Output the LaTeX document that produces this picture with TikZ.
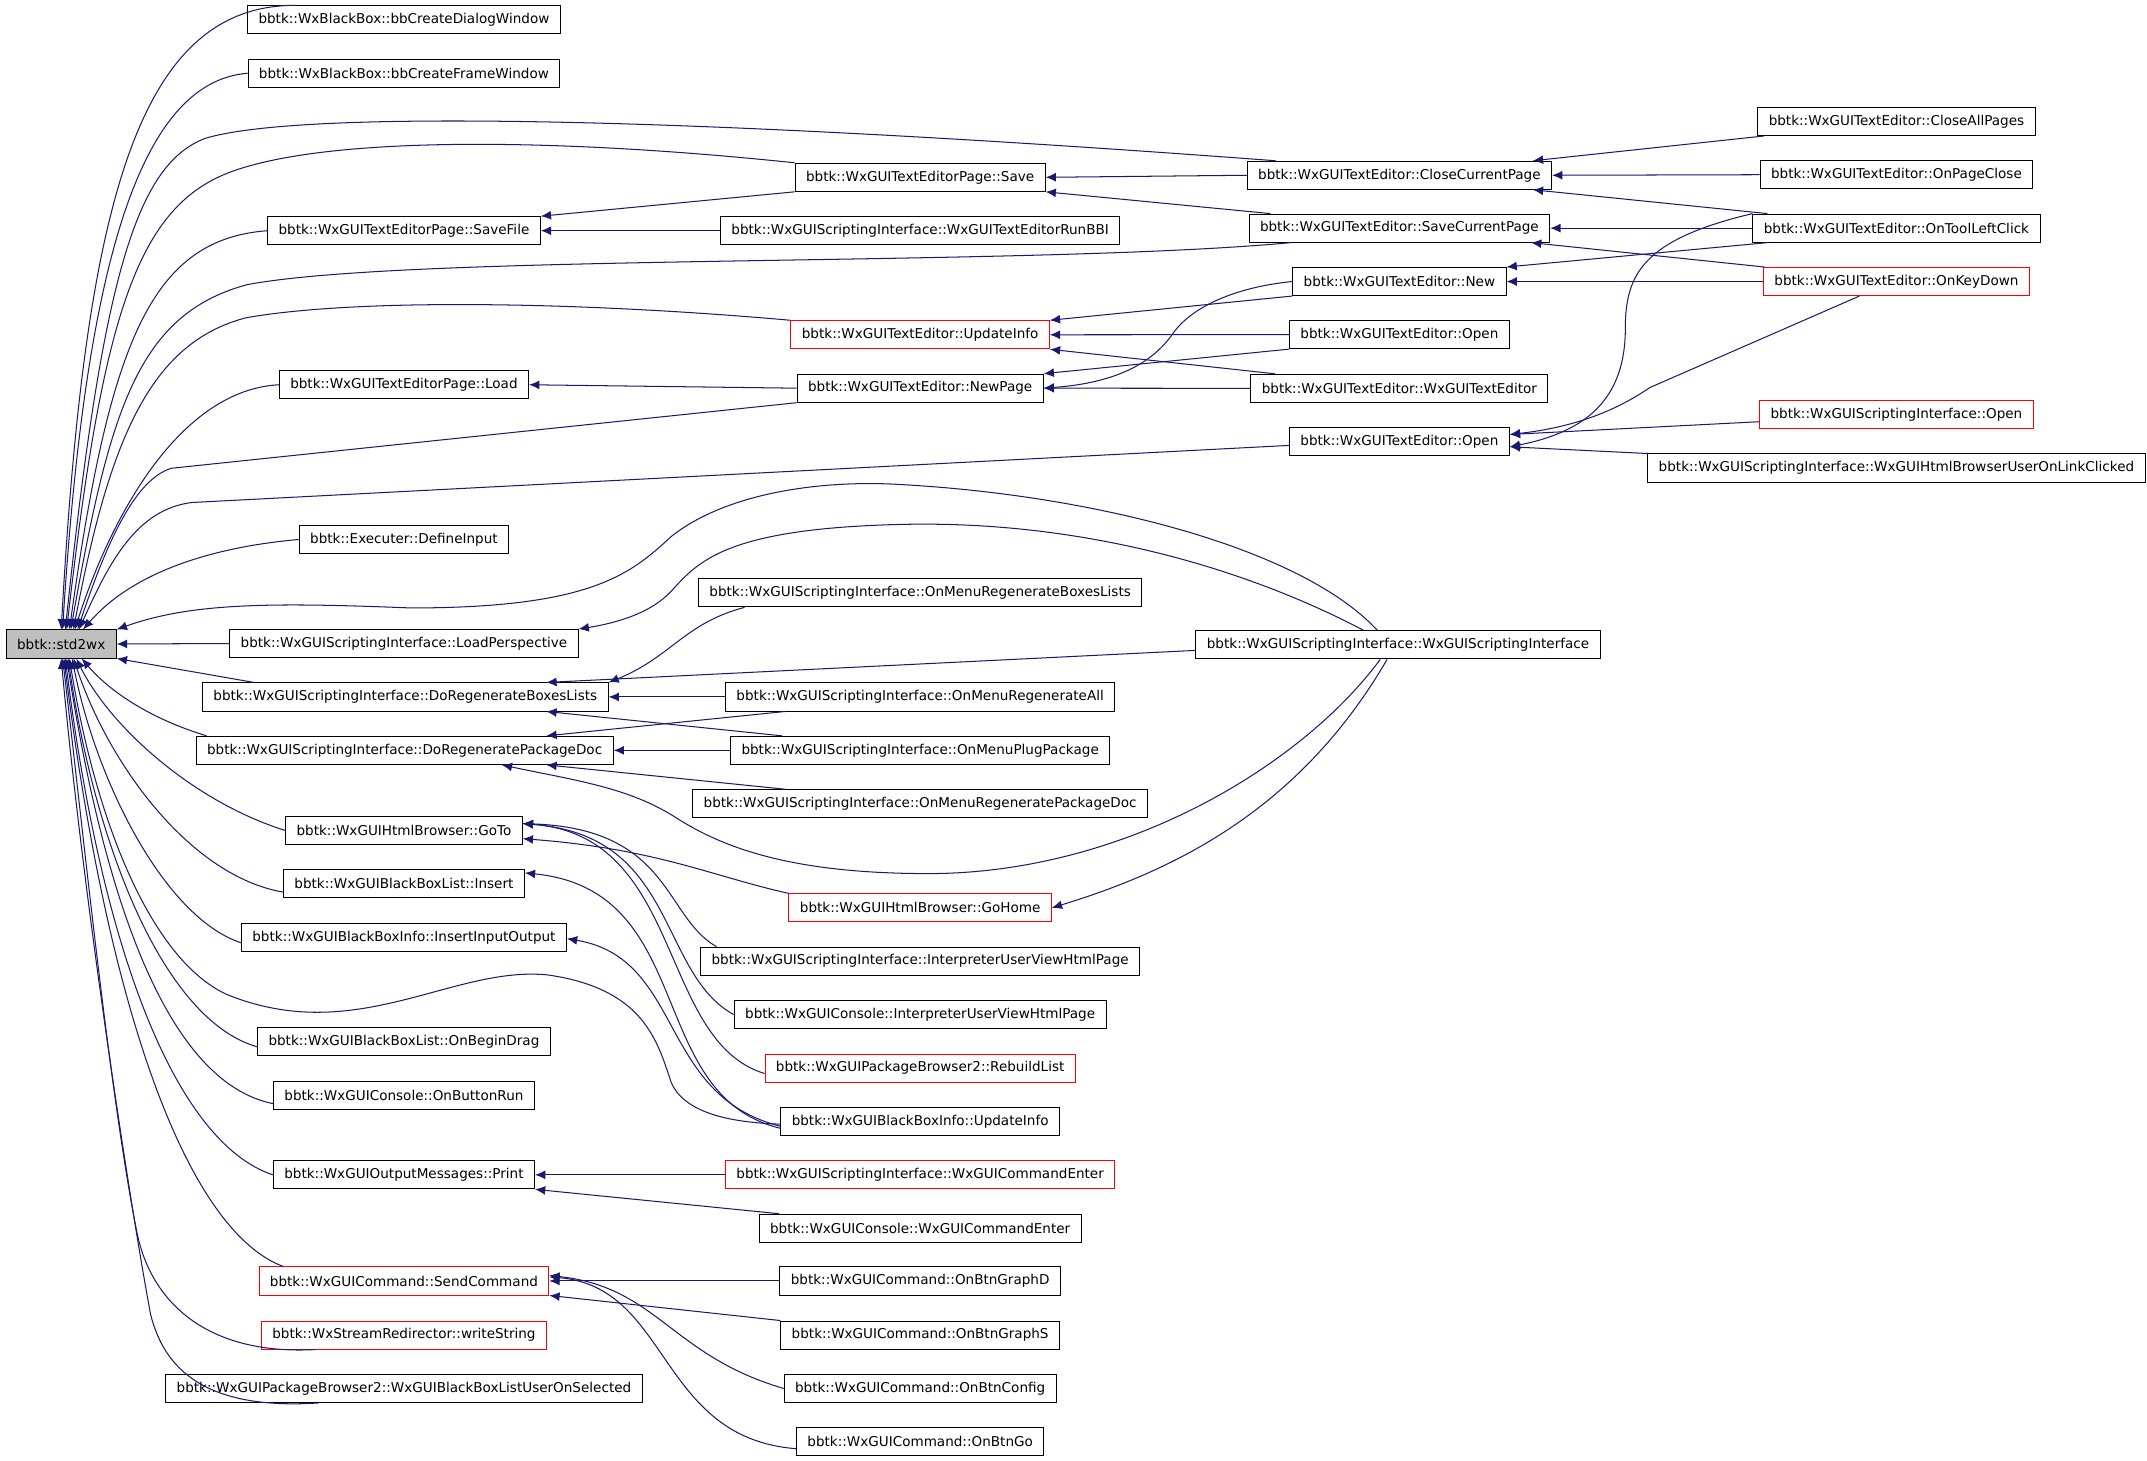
\documentclass[tikz,border=0pt]{standalone}
\usepackage{fontspec}
\setmainfont{DejaVu Sans}
\usetikzlibrary{arrows.meta}

\definecolor{edgeblue}{RGB}{25,25,112}
\definecolor{boxgray}{RGB}{191,191,191}

\tikzstyle{fn} = [draw, line width=0.7pt, font=\fontsize{9.9}{12}\selectfont, inner xsep=8pt, inner ysep=0pt, minimum height=20.5pt]
\tikzstyle{fnred} = [fn, draw=red]
\tikzstyle{line} = [draw, edgeblue, line width=0.75pt, -{Latex[length=7.5pt,width=6.5pt]}]

\begin{document}
\begin{tikzpicture}[x=1pt, y=-1pt]
	\useasboundingbox (0,0) rectangle (1568,1067);

	\node[fn, fill=boxgray] (std) at (44.7,470.3) {bbtk::std2wx};

	% first column of callers
	\node[fn] (dlg) at (295,14.5) {bbtk::WxBlackBox::bbCreateDialogWindow};
	\node[fn] (frm) at (295,53.5) {bbtk::WxBlackBox::bbCreateFrameWindow};
	\node[fn] (savefile) at (295,168.5) {bbtk::WxGUITextEditorPage::SaveFile};
	\node[fn] (load) at (295,281) {bbtk::WxGUITextEditorPage::Load};
	\node[fn] (definput) at (295,394) {bbtk::Executer::DefineInput};
	\node[fn] (loadpersp) at (295,470) {bbtk::WxGUIScriptingInterface::LoadPerspective};
	\node[fn] (regenbox) at (296,509) {bbtk::WxGUIScriptingInterface::DoRegenerateBoxesLists};
	\node[fn] (regendoc) at (295.5,548) {bbtk::WxGUIScriptingInterface::DoRegeneratePackageDoc};
	\node[fn] (htmlgoto) at (295,606.5) {bbtk::WxGUIHtmlBrowser::GoTo};
	\node[fn] (insert) at (295,645.5) {bbtk::WxGUIBlackBoxList::Insert};
	\node[fn] (insertio) at (295,684.5) {bbtk::WxGUIBlackBoxInfo::InsertInputOutput};
	\node[fn] (begindrag) at (295,760.5) {bbtk::WxGUIBlackBoxList::OnBeginDrag};
	\node[fn] (buttonrun) at (295,800) {bbtk::WxGUIConsole::OnButtonRun};
	\node[fn] (print) at (295,858) {bbtk::WxGUIOutputMessages::Print};
	\node[fnred] (sendcmd) at (295,935.5) {bbtk::WxGUICommand::SendCommand};
	\node[fnred] (writestr) at (295,975) {bbtk::WxStreamRedirector::writeString};
	\node[fn] (useronsel) at (295,1014) {bbtk::WxGUIPackageBrowser2::WxGUIBlackBoxListUserOnSelected};

	% second column
	\node[fn] (save) at (672,129.5) {bbtk::WxGUITextEditorPage::Save};
	\node[fn] (runbbi) at (672,168.5) {bbtk::WxGUIScriptingInterface::WxGUITextEditorRunBBI};
	\node[fnred] (updinfo) at (672,244.5) {bbtk::WxGUITextEditor::UpdateInfo};
	\node[fn] (newpage) at (672,283.5) {bbtk::WxGUITextEditor::NewPage};
	\node[fn] (menuboxes) at (672,433) {bbtk::WxGUIScriptingInterface::OnMenuRegenerateBoxesLists};
	\node[fn] (menuall) at (672,509) {bbtk::WxGUIScriptingInterface::OnMenuRegenerateAll};
	\node[fn] (menuplug) at (672,548) {bbtk::WxGUIScriptingInterface::OnMenuPlugPackage};
	\node[fn] (menudoc) at (672,587) {bbtk::WxGUIScriptingInterface::OnMenuRegeneratePackageDoc};
	\node[fnred] (gohome) at (672,663) {bbtk::WxGUIHtmlBrowser::GoHome};
	\node[fn] (siview) at (672,702) {bbtk::WxGUIScriptingInterface::InterpreterUserViewHtmlPage};
	\node[fn] (conview) at (672,741) {bbtk::WxGUIConsole::InterpreterUserViewHtmlPage};
	\node[fnred] (rebuild) at (672,780) {bbtk::WxGUIPackageBrowser2::RebuildList};
	\node[fn] (bbiupd) at (672,819) {bbtk::WxGUIBlackBoxInfo::UpdateInfo};
	\node[fnred] (sicmd) at (672,858) {bbtk::WxGUIScriptingInterface::WxGUICommandEnter};
	\node[fn] (concmd) at (672,897) {bbtk::WxGUIConsole::WxGUICommandEnter};
	\node[fn] (graphd) at (672,935.5) {bbtk::WxGUICommand::OnBtnGraphD};
	\node[fn] (graphs) at (672,975) {bbtk::WxGUICommand::OnBtnGraphS};
	\node[fn] (config) at (672,1014) {bbtk::WxGUICommand::OnBtnConfig};
	\node[fn] (btngo) at (672,1053) {bbtk::WxGUICommand::OnBtnGo};

	% third column
	\node[fn] (closecur) at (1022,128) {bbtk::WxGUITextEditor::CloseCurrentPage};
	\node[fn] (savecur) at (1022,166.6) {bbtk::WxGUITextEditor::SaveCurrentPage};
	\node[fn] (tenew) at (1022,205.6) {bbtk::WxGUITextEditor::New};
	\node[fn] (teopen) at (1022,244.4) {bbtk::WxGUITextEditor::Open};
	\node[fn] (tector) at (1022,283.6) {bbtk::WxGUITextEditor::WxGUITextEditor};
	\node[fn] (teopen2) at (1022,322.3) {bbtk::WxGUITextEditor::Open};
	\node[fn] (sictor) at (1021,471) {bbtk::WxGUIScriptingInterface::WxGUIScriptingInterface};

	% fourth column
	\node[fn] (closeall) at (1385,88.7) {bbtk::WxGUITextEditor::CloseAllPages};
	\node[fn] (pageclose) at (1385,127.6) {bbtk::WxGUITextEditor::OnPageClose};
	\node[fn] (toolleft) at (1385,166.6) {bbtk::WxGUITextEditor::OnToolLeftClick};
	\node[fnred] (keydown) at (1385,205.6) {bbtk::WxGUITextEditor::OnKeyDown};
	\node[fnred] (siopen) at (1385,303) {bbtk::WxGUIScriptingInterface::Open};
	\node[fn] (linkclick) at (1385,341.8) {bbtk::WxGUIScriptingInterface::WxGUIHtmlBrowserUserOnLinkClicked};

	% callers of std2wx, from above
	\draw[line] ([xshift=35pt]dlg.north west) .. controls (100,4) and (62,150) .. (std.north);
	\draw[line] (frm.west) .. controls (100,60) and (62,200) .. ([xshift=1pt]std.north);
	\draw[line] ([xshift=21pt]closecur.north west) .. controls (500,85) and (220,80) .. (150,101) .. controls (100,120) and (75,200) .. ([xshift=3pt]std.north);
	\draw[line] (save.north west) .. controls (400,100) and (240,100) .. (170,125) .. controls (100,150) and (75,230) .. ([xshift=4pt]std.north);
	\draw[line] (savefile.west) .. controls (110,175) and (80,250) .. ([xshift=6pt]std.north);
	\draw[line] ([xshift=31pt]savecur.south west) .. controls (750,195) and (300,185) .. (180,208) .. controls (100,230) and (80,300) .. ([xshift=7pt]std.north);
	\draw[line] (updinfo.north west) .. controls (420,220) and (260,218) .. (180,232) .. controls (110,250) and (80,320) .. ([xshift=9pt]std.north);
	\draw[line] (load.west) .. controls (130,285) and (80,380) .. ([xshift=10pt]std.north);
	\draw[line] (newpage.south west) -- (125,342) .. controls (100,350) and (80,390) .. ([xshift=12pt]std.north);
	\draw[line] ([yshift=-3pt]teopen2.west) -- (140,367) .. controls (100,372) and (80,410) .. ([xshift=13pt]std.north);
	\draw[line] (definput.west) .. controls (150,400) and (95,420) .. ([xshift=16pt]std.north);
	\draw[line] ([xshift=-15pt]sictor.north) .. controls (950,400) and (800,362) .. (660,354) .. controls (600,350) and (530,360) .. (490,392) .. controls (460,420) and (430,444) .. (300,444) .. controls (200,440) and (140,440) .. (std.north east);
	\draw[line] (loadpersp.west) -- (std.east);

	% callers of std2wx, from below
	\draw[line] ([xshift=38pt]regenbox.north west) -- (std.south east);
	\draw[line] ([xshift=8pt]regendoc.north west) .. controls (110,525) and (80,505) .. ([xshift=15pt]std.south);
	\draw[line] (htmlgoto.west) .. controls (140,585) and (80,530) .. ([xshift=11pt]std.south);
	\draw[line] ([yshift=-6pt]insert.west) .. controls (140,640) and (80,560) .. ([xshift=9pt]std.south);
	\draw[line] ([yshift=-4pt]insertio.west) .. controls (120,670) and (70,570) .. ([xshift=8pt]std.south);
	\draw[line] ([yshift=-2pt]bbiupd.west) .. controls (540,820) and (500,815) .. (490,790) .. controls (480,760) and (470,722) .. (400,712) .. controls (330,705) and (260,765) .. (165,726) .. controls (110,700) and (70,600) .. ([xshift=6pt]std.south);
	\draw[line] ([yshift=-4pt]begindrag.west) .. controls (120,745) and (70,620) .. ([xshift=5pt]std.south);
	\draw[line] ([yshift=-6pt]buttonrun.west) .. controls (120,790) and (75,650) .. ([xshift=4pt]std.south);
	\draw[line] (print.west) .. controls (130,835) and (75,700) .. ([xshift=3pt]std.south);
	\draw[line] ([xshift=18pt]sendcmd.north west) .. controls (140,900) and (80,750) .. ([xshift=2pt]std.south);
	\draw[line] ([xshift=40pt]writestr.south west) .. controls (150,990) and (110,950) .. (100,900) .. controls (80,800) and (60,600) .. ([xshift=1pt]std.south);
	\draw[line] ([xshift=112pt]useronsel.south west) .. controls (150,1030) and (120,1000) .. (110,960) .. controls (95,880) and (60,650) .. (std.south);

	% text editor
	\draw[line] (save.south west) -- (savefile.north east);
	\draw[line] (runbbi.west) -- (savefile.east);
	\draw[line] (closecur.west) -- (save.east);
	\draw[line] ([xshift=16pt]savecur.north west) -- (save.south east);
	\draw[line] ([xshift=5pt]closeall.south west) -- ([xshift=-14pt]closecur.north east);
	\draw[line] (pageclose.west) -- (closecur.east);
	\draw[line] ([xshift=11pt]toolleft.north west) -- ([xshift=-14pt]closecur.south east);
	\draw[line] (toolleft.west) -- (savecur.east);
	\draw[line] ([xshift=1pt]keydown.north west) -- ([xshift=-14pt]savecur.south east);
	\draw[line] ([xshift=11pt]toolleft.south west) -- (tenew.north east);
	\draw[line] (keydown.west) -- (tenew.east);
	\draw[line] (tenew.south west) -- (updinfo.north east);
	\draw[line] (teopen.west) -- (updinfo.east);
	\draw[line] ([xshift=18pt]tector.north west) -- (updinfo.south east);
	\draw[line] (teopen.south west) -- (newpage.north east);
	\draw[line] (tenew.west) .. controls (900,210) and (870,225) .. (857,243) .. controls (840,268) and (810,280) .. (newpage.east);
	\draw[line] (tector.west) -- (newpage.east);
	\draw[line] (newpage.west) -- (load.east);
	\draw[line] (toolleft.north west) .. controls (1200,175) and (1187,200) .. (1187,240) .. controls (1187,290) and (1160,315) .. ([yshift=-4pt]teopen2.east);
	\draw[line] ([xshift=-27pt]keydown.south) -- (1205,283) .. controls (1180,300) and (1150,312) .. ([yshift=5pt]teopen2.east);
	\draw[line] ([yshift=-5pt]siopen.west) -- ([yshift=5pt]teopen2.east);
	\draw[line] (linkclick.north west) -- ([yshift=-4pt]teopen2.east);

	% scripting interface
	\draw[line] ([xshift=-25pt]sictor.north) .. controls (900,410) and (780,380) .. (658,383) .. controls (530,386) and (510,410) .. (490,432) .. controls (475,448) and (450,455) .. (loadpersp.north east);
	\draw[line] ([yshift=-4pt]sictor.west) -- ([xshift=103pt]regenbox.north);
	\draw[line] ([xshift=34pt]menuboxes.south west) .. controls (500,455) and (490,480) .. (regenbox.north east);
	\draw[line] (menuall.west) -- (regenbox.east);
	\draw[line] ([xshift=38pt]menuplug.north west) -- ([xshift=103pt]regenbox.south);
	\draw[line] ([xshift=44pt]menuall.south west) -- ([xshift=103.5pt]regendoc.north);
	\draw[line] (menuplug.west) -- (regendoc.east);
	\draw[line] ([xshift=68pt]menudoc.north west) -- ([xshift=103.5pt]regendoc.south);
	\draw[line] ([xshift=-13pt]sictor.south) .. controls (950,560) and (820,638) .. (678,638) .. controls (580,638) and (530,620) .. (495,598) .. controls (460,575) and (420,570) .. ([xshift=71pt]regendoc.south);
	\draw[line] ([xshift=-8pt]sictor.south) .. controls (950,590) and (860,635) .. (gohome.east);

	% html browser, black box lists
	\draw[line] (gohome.north west) .. controls (520,640) and (480,620) .. ([yshift=-6pt]htmlgoto.east);
	\draw[line] ([xshift=12pt]siview.north west) .. controls (485,670) and (490,605) .. ([yshift=5pt]htmlgoto.east);
	\draw[line] (conview.west) .. controls (480,710) and (495,610) .. ([yshift=5pt]htmlgoto.east);
	\draw[line] ([yshift=-4pt]rebuild.west) .. controls (480,760) and (500,610) .. ([yshift=5pt]htmlgoto.east);
	\draw[line] ([yshift=-5pt]bbiupd.west) .. controls (470,800) and (510,650) .. ([yshift=8pt]insert.east);
	\draw[line] ([yshift=-3.5pt]bbiupd.west) .. controls (480,800) and (500,700) .. ([yshift=-1pt]insertio.east);

	% console and commands
	\draw[line] (sicmd.west) -- (print.east);
	\draw[line] ([xshift=15pt]concmd.north west) -- (print.south east);
	\draw[line] (graphd.west) -- (sendcmd.east);
	\draw[line] (graphs.north west) -- (sendcmd.south east);
	\draw[line] (config.west) .. controls (490,990) and (480,940) .. ([yshift=4pt]sendcmd.east);
	\draw[line] ([yshift=-5pt]btngo.west) .. controls (480,1050) and (490,940) .. ([yshift=3pt]sendcmd.east);

\end{tikzpicture}
\end{document}
